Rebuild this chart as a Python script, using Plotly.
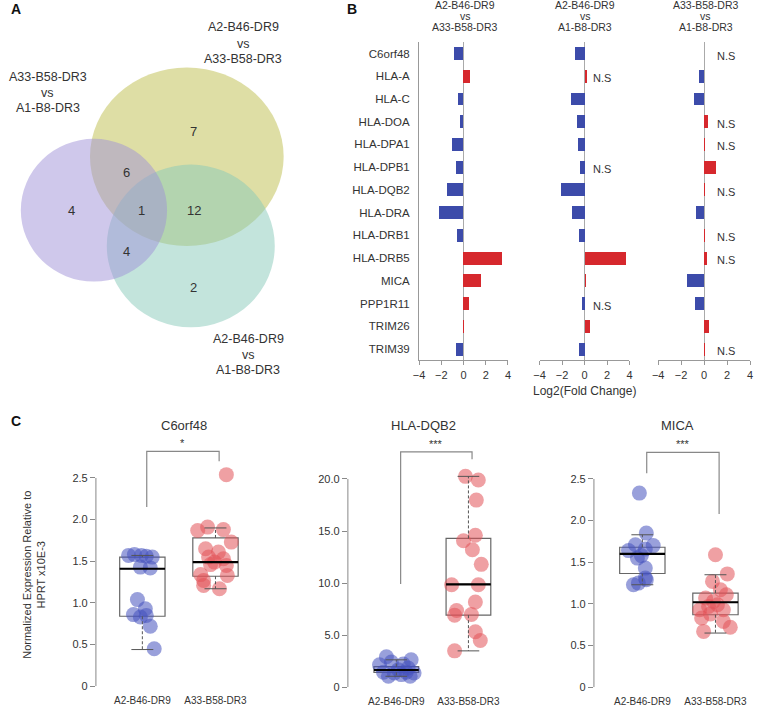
import plotly.graph_objects as go

W, H = 757, 717


def fx(p):
    return p / W


def fy(p):
    return 1 - p / H


# ---------------- DATA ----------------
# Panel A (Venn counts)
venn_counts = {"yellow_only": "7", "purple_yellow": "6", "purple_only": "4", "triple": "1",
               "yellow_teal": "12", "purple_teal": "4", "teal_only": "2"}
venn_labels = [["A2-B46-DR9", "vs", "A33-B58-DR3"],
               ["A33-B58-DR3", "vs", "A1-B8-DR3"],
               ["A2-B46-DR9", "vs", "A1-B8-DR3"]]

# Panel B (log2 fold change)
genes = ["C6orf48", "HLA-A", "HLA-C", "HLA-DOA", "HLA-DPA1", "HLA-DPB1", "HLA-DQB2",
         "HLA-DRA", "HLA-DRB1", "HLA-DRB5", "MICA", "PPP1R11", "TRIM26", "TRIM39"]
comparisons = [["A2-B46-DR9", "vs", "A33-B58-DR3"],
               ["A2-B46-DR9", "vs", "A1-B8-DR3"],
               ["A33-B58-DR3", "vs", "A1-B8-DR3"]]
fc_col1 = [-0.85, 0.60, -0.45, -0.33, -1.05, -0.67, -1.45, -2.20, -0.60, 3.48, 1.58, 0.52, 0.05, -0.67]
fc_col2 = [-0.85, 0.20, -1.18, -0.70, -0.60, -0.38, -2.10, -1.10, -0.47, 3.73, 0.12, -0.20, 0.53, -0.53]
fc_col3 = [0.03, -0.46, -0.86, 0.34, 0.08, 1.06, 0.08, -0.69, 0.10, 0.29, -1.49, -0.77, 0.46, 0.10]
ns_col1 = [False] * 14
ns_col2 = [False, True, False, False, False, True, False, False, False, False, False, True, False, False]
ns_col3 = [True, False, False, True, True, False, True, False, True, True, False, False, False, True]
fc_ticks = [-4, -2, 0, 2, 4]

# Panel C (normalized expression)
c_genes = ["C6orf48", "HLA-DQB2", "MICA"]
c_groups = ["A2-B46-DR9", "A33-B58-DR3"]
c_sig = ["*", "***", "***"]
c_tickvals = [[0, 0.5, 1.0, 1.5, 2.0, 2.5], [0, 5, 10, 15, 20], [0, 0.5, 1.0, 1.5, 2.0, 2.5]]
c_ticktext = [["0", "0.5", "1.0", "1.5", "2.0", "2.5"], ["0", "5.0", "10.0", "15.0", "20.0"],
              ["0", "0.5", "1.0", "1.5", "2.0", "2.5"]]

c6_a2 = [1.57, 1.58, 1.57, 1.56, 1.55, 1.43, 1.42, 1.04, 0.93, 0.86, 0.83, 0.85, 0.72, 0.45]
c6_a33 = [2.54, 1.91, 1.87, 1.88, 1.73, 1.65, 1.61, 1.55, 1.53, 1.49, 1.46, 1.45, 1.33, 1.34, 1.27, 1.21, 1.17]
dq_a2 = [2.92, 2.63, 2.16, 2.41, 2.22, 1.43, 1.68, 1.84, 1.37, 1.05, 1.21, 1.05, 1.37, 1.43]
dq_a33 = [20.25, 19.9, 17.97, 14.6, 14.06, 13.2, 11.8, 9.84, 9.84, 8.19, 7.37, 6.92, 6.98, 5.33, 4.48, 3.49]
mi_a2 = [2.33, 1.85, 1.71, 1.64, 1.70, 1.66, 1.58, 1.55, 1.43, 1.31, 1.23, 1.25, 1.29]
mi_a33 = [1.59, 1.36, 1.27, 1.17, 1.11, 1.07, 1.03, 0.99, 0.97, 0.93, 0.93, 0.83, 0.88, 0.79, 0.72, 0.67]

# box statistics [A2, A33]
box_q1 = [[0.84, 1.32], [1.43, 6.92], [1.365, 0.87]]
box_med = [[1.41, 1.49], [1.65, 9.87], [1.60, 1.02]]
box_q3 = [[1.55, 1.78], [1.97, 14.29], [1.68, 1.13]]
box_lo = [[0.44, 1.17], [1.05, 3.49], [1.23, 0.65]]
box_hi = [[1.57, 1.90], [2.63, 20.25], [1.83, 1.35]]

# significance bracket levels (left leg end, top, right leg end)
br_left = [2.15, 9.9, 2.57]
br_top = [2.82, 22.6, 2.82]
br_right = [2.70, 21.9, 2.08]

# ---------------- STYLE / LAYOUT ----------------
jit_c6_a2 = [-14, -8, -1, 4, 10, -2, 8, -5, 3, -9, -2, 4, 8, 12]
jit_c6_a33 = [11, -8, -18, 8, 16, -10, 3, -7, 8, -1, -5, 11, 12, -15, -12, -12, 4]
jit_dq_a2 = [-10, 15, -17, -5, 7, -13, 2, 12, 18, -8, 5, 14, -2, 10]
jit_dq_a33 = [-3, 10, 8, 7, -5, 4, 13, -17, 10, 7, -12, -14, 3, 7, 12, -14]
jit_mi_a2 = [-3, 4, -7, -14, 11, 3, -1, -5, 3, 3, -9, -4, 4]
jit_mi_a33 = [0, 12, -3, 5, 11, -10, -2, 2, -7, -16, 8, -14, -5, 8, 15, -12]

FONT = "Liberation Sans, Arial, sans-serif"
TXT = "#333333"
BLUE = "#3c4baa"
RED = "#d6282d"
PT_BLUE = "rgba(70,82,190,0.55)"
PT_RED = "rgba(226,82,88,0.55)"
AX = "#999999"

fig = go.Figure()
annotations = []
shapes = []


def ann(x, y, text, size, **kw):
    d = dict(x=fx(x), y=fy(y), xref="paper", yref="paper", text=text, showarrow=False,
             xanchor="center", yanchor="middle", font=dict(size=size, color=TXT, family=FONT))
    d.update(kw)
    return d


# ---------- Panel A ----------
circles = [  # (cx, cy, rx, ry, color) order: yellow, teal, purple (on top)
    (183, 158, 98, 90, "rgb(189,189,75)"),
    (187, 248, 85, 82, "rgb(135,201,185)"),
    (89, 212, 74, 72, "rgb(160,145,215)"),
]
for cx, cy, rx, ry, col in circles:
    shapes.append(dict(type="circle", xref="paper", yref="paper",
                       x0=fx(cx - rx), x1=fx(cx + rx), y0=fy(cy + ry), y1=fy(cy - ry),
                       fillcolor=col, opacity=0.5, line=dict(width=0), layer="below"))
count_pos = {"yellow_only": (190, 133), "purple_yellow": (122, 174), "purple_only": (66, 212),
             "triple": (137, 212), "yellow_teal": (190, 212), "purple_teal": (122, 254),
             "teal_only": (190, 290)}
for k, (x, y) in count_pos.items():
    annotations.append(ann(x, y, venn_counts[k], 13))
label_pos = [(240, [27, 44, 59]), (42, [78, 94, 109]), (245, [342, 358, 373])]
for (x, ys), lines in zip(label_pos, venn_labels):
    for y, t in zip(ys, lines):
        annotations.append(ann(x, y, t, 12.5))

# panel letters
for t, x, y in [("A", 3, 9), ("B", 343, 9), ("C", 3, 425)]:
    annotations.append(ann(x, y, "<b>%s</b>" % t, 14, xanchor="left",
                           font=dict(size=14, color="#111", family=FONT)))

# ---------- Panel B ----------
b_dom = [(418, 508), (540, 631), (660, 753)]
b_title_x = [465, 586, 708]
ns_all = [ns_col1, ns_col2, ns_col3]
ns_shift = [6, 6, 11]
for k, vals in enumerate([fc_col1, fc_col2, fc_col3]):
    s = "" if k == 0 else str(k + 1)
    fig.add_trace(go.Bar(x=vals, y=genes, orientation="h", width=0.57,
                         marker=dict(color=[RED if v > 0 else BLUE for v in vals], line=dict(width=0)),
                         xaxis="x" + s, yaxis="y" + s, showlegend=False, hoverinfo="skip"))
    d0, d1 = b_dom[k]
    fig.layout["xaxis" + s] = dict(domain=[fx(d0), fx(d1)], anchor="y" + s, range=[-4, 4],
                                   tickvals=fc_ticks, ticks="outside", ticklen=4, tickcolor=AX,
                                   showline=True, linecolor=AX, linewidth=1, showgrid=False,
                                   zeroline=True, zerolinecolor="#aaaaaa", zerolinewidth=1,
                                   tickfont=dict(size=11, color=TXT, family=FONT), fixedrange=True)
    fig.layout["yaxis" + s] = dict(domain=[fy(363.5), fy(42.5)], anchor="x" + s, type="category",
                                   categoryorder="array", categoryarray=genes, range=[13.5, -0.5],
                                   showline=(k == 0), linecolor=AX, linewidth=1, ticks="",
                                   showticklabels=(k == 0), ticklabelstandoff=6, showgrid=False,
                                   zeroline=False, tickfont=dict(size=11.5, color=TXT, family=FONT))
    for j, flag in enumerate(ns_all[k]):
        if flag:
            annotations.append(dict(x=0, y=genes[j], xref="x" + s, yref="y" + s, text="N.S",
                                    showarrow=False, xanchor="left", yanchor="middle",
                                    xshift=ns_shift[k], yshift=-2,
                                    font=dict(size=11, color=TXT, family=FONT)))
    for y, t in zip([5.5, 16.5, 27.5], comparisons[k]):
        annotations.append(ann(b_title_x[k], y, t, 10.5))
annotations.append(ann(585, 394, "Log2(Fold Change)", 12))

# ---------- Panel C ----------
c_axis_px = [91, 346, 595]
c_first_off = [47, 49, 49]
c_spacing = [74, 73, 74]
c_right = [252, 508, 756]
c_ybot = [692, 693, 693]
c_ymax = [3.0, 24.0, 3.0]
c_title_x = [180, 423, 680]
points = [[(c6_a2, jit_c6_a2), (c6_a33, jit_c6_a33)],
          [(dq_a2, jit_dq_a2), (dq_a33, jit_dq_a33)],
          [(mi_a2, jit_mi_a2), (mi_a33, jit_mi_a33)]]
for k in range(3):
    s = str(k + 4)
    xa, ya = "x" + s, "y" + s
    sp = c_spacing[k]
    lo = -c_first_off[k] / sp
    hi = (c_right[k] - c_axis_px[k] - c_first_off[k]) / sp
    fig.layout["xaxis" + s] = dict(domain=[fx(c_axis_px[k]), fx(c_right[k])], anchor=ya, range=[lo, hi],
                                   tickvals=[0, 1], ticktext=c_groups, ticks="", showline=False,
                                   showgrid=False, zeroline=False, ticklabelstandoff=7,
                                   tickfont=dict(size=10, color=TXT, family=FONT), fixedrange=True)
    fig.layout["yaxis" + s] = dict(domain=[fy(c_ybot[k]), fy(c_ybot[k] - 252)], anchor=xa,
                                   range=[0, c_ymax[k]], tickvals=c_tickvals[k], ticktext=c_ticktext[k],
                                   ticks="outside", ticklen=5, tickcolor="#888888", showline=False,
                                   showgrid=False, zeroline=False,
                                   tickfont=dict(size=11, color=TXT, family=FONT), fixedrange=True)
    shapes.append(dict(type="line", xref=xa + " domain", yref=ya, x0=0, x1=0,
                       y0=0, y1=c_tickvals[k][-1], line=dict(color="#888888", width=1)))
    # points
    for g in range(2):
        vals, jit = points[k][g]
        fig.add_trace(go.Scatter(x=[g + j / sp for j in jit], y=vals, mode="markers", xaxis=xa, yaxis=ya,
                                 marker=dict(size=15, color=PT_BLUE if g == 0 else PT_RED, line=dict(width=0)),
                                 cliponaxis=False, showlegend=False, hoverinfo="skip"))
    # boxes
    for g in range(2):
        fig.add_trace(go.Box(x=[g], q1=[box_q1[k][g]], median=[box_med[k][g]], q3=[box_q3[k][g]],
                             lowerfence=[box_q1[k][g]], upperfence=[box_q3[k][g]], width=0.62,
                             fillcolor="rgba(0,0,0,0)", line=dict(color="#666666", width=1.2),
                             boxpoints=False, xaxis=xa, yaxis=ya, showlegend=False, hoverinfo="skip"))
        # dashed whiskers
        fig.add_trace(go.Scatter(x=[g, g, None, g, g],
                                 y=[box_q3[k][g], box_hi[k][g], None, box_q1[k][g], box_lo[k][g]],
                                 mode="lines", line=dict(color="#555555", width=1, dash="3px,2px"),
                                 xaxis=xa, yaxis=ya, showlegend=False, hoverinfo="skip"))
        # caps
        fig.add_trace(go.Scatter(x=[g - 0.15, g + 0.15, None, g - 0.15, g + 0.15],
                                 y=[box_hi[k][g], box_hi[k][g], None, box_lo[k][g], box_lo[k][g]],
                                 mode="lines", line=dict(color="#555555", width=1),
                                 xaxis=xa, yaxis=ya, showlegend=False, hoverinfo="skip"))
        # median
        fig.add_trace(go.Scatter(x=[g - 0.31, g + 0.31], y=[box_med[k][g]] * 2, mode="lines",
                                 line=dict(color="#000000", width=2.2),
                                 xaxis=xa, yaxis=ya, showlegend=False, hoverinfo="skip"))
    # bracket
    fig.add_trace(go.Scatter(x=[0.06, 0.06, 1.05, 1.05], y=[br_left[k], br_top[k], br_top[k], br_right[k]],
                             mode="lines", line=dict(color="#888888", width=1.2),
                             xaxis=xa, yaxis=ya, showlegend=False, hoverinfo="skip"))
    annotations.append(dict(x=0.55, y=br_top[k], xref=xa, yref=ya, text=c_sig[k], showarrow=False,
                            xanchor="center", yanchor="bottom", yshift=0,
                            font=dict(size=11, color=TXT, family=FONT)))
    annotations.append(ann(c_title_x[k], 429, c_genes[k], 13))

annotations.append(ann(28, 580, "Normalized Expression Relative to<br>HPRT x10E-3", 11, textangle=-90))

fig.update_layout(width=W, height=H, margin=dict(l=0, r=0, t=0, b=0, pad=0),
                  paper_bgcolor="white", plot_bgcolor="white", boxmode="overlay", bargap=0,
                  showlegend=False, annotations=annotations, shapes=shapes,
                  font=dict(family=FONT, color=TXT), hovermode=False)

fig.write_html("out.html", config={"displayModeBar": False, "staticPlot": True},
               post_script="document.body.style.margin='0px';")
